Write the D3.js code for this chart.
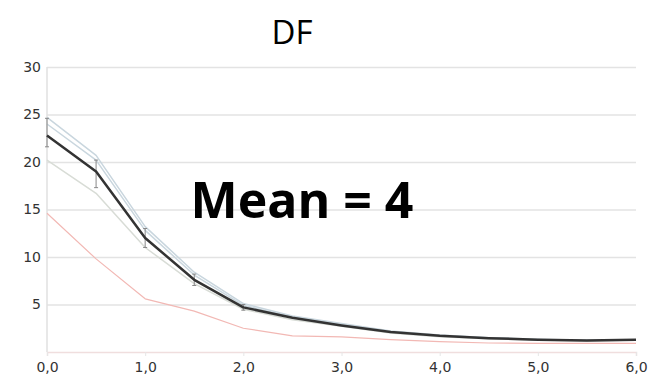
<!DOCTYPE html>
<html>
<head>
<meta charset="utf-8">
<script src="https://cdn.jsdelivr.net/npm/d3@7"></script>
<style>
  body { margin: 0; background: #fff; }
  svg { display: block; }
</style>
</head>
<body>
<div id="chart"></div>
<script>
// data
var xs       = [0, 0.5, 1.0, 1.5, 2.0, 2.5, 3.0, 3.5, 4.0, 4.5, 5.0, 5.5, 6.0];
var meanVals = [22.8, 19.0, 12.0, 7.6, 4.7, 3.6, 2.8, 2.1, 1.7, 1.45, 1.3, 1.2, 1.3];
var upper1   = [24.7, 20.7, 13.2, 8.4, 5.1, 3.8, 3.0, 2.2, 1.8, 1.5, 1.35, 1.25, 1.3];
var upper2   = [24.0, 20.2, 12.8, 8.1, 4.9, 3.7, 2.9, 2.15, 1.75, 1.5, 1.3, 1.2, 1.3];
var lower    = [20.2, 16.7, 11.0, 7.2, 4.5, 3.4, 2.7, 2.0, 1.6, 1.4, 1.25, 1.15, 1.25];
var redVals  = [14.6, 9.8, 5.6, 4.3, 2.5, 1.7, 1.6, 1.3, 1.1, 0.95, 0.9, 0.9, 0.9];
var errX     = [0, 0.5, 1.0, 1.5, 2.0];
var errLow   = [21.6, 17.3, 11.0, 7.0, 4.4];
var errHigh  = [24.6, 20.2, 13.0, 8.2, 5.0];
var yTicks   = [5, 10, 15, 20, 25, 30];
var xTicks   = [0, 1, 2, 3, 4, 5, 6];

var w = 656, h = 380;
var svg = d3.select("#chart").append("svg")
    .attr("width", w)
    .attr("height", h);

var x = d3.scaleLinear().domain([0, 6]).range([47, 636]);
var y = d3.scaleLinear().domain([0, 30]).range([352, 67]);

// grid
svg.append("g")
    .attr("transform", "translate(47,0)")
    .call(d3.axisLeft(y).tickValues(yTicks).tickSize(-589).tickFormat(""))
    .call(function(g) {
        g.select(".domain").remove();
        g.selectAll("line").attr("stroke", "#e3e3e3").attr("stroke-width", 1.5);
    });

// y axis line
svg.append("line")
    .attr("x1", 47).attr("x2", 47)
    .attr("y1", y(30)).attr("y2", y(0))
    .attr("stroke", "#e0e0e0").attr("stroke-width", 1.5);

// x axis
var xAxis = svg.append("g")
    .attr("transform", "translate(0,352)")
    .call(d3.axisBottom(x).tickValues(xTicks).tickSize(4)
        .tickFormat(function(d) { return d3.format(".1f")(d).replace(".", ","); }));
xAxis.select(".domain").attr("stroke", "#f0dede").attr("stroke-width", 1.5);
xAxis.selectAll("line").attr("stroke", "#e6e6e6");
xAxis.selectAll("text")
    .attr("y", 10)
    .attr("dy", "0.71em")
    .style("font-family", "DejaVu Sans")
    .style("font-size", "14px")
    .style("fill", "#333");

// y labels
svg.append("g")
    .selectAll("text")
    .data(yTicks)
    .enter()
    .append("text")
    .attr("x", 41)
    .attr("y", function(d) { return y(d); })
    .attr("dy", "0.35em")
    .attr("text-anchor", "end")
    .style("font-family", "DejaVu Sans")
    .style("font-size", "14px")
    .style("fill", "#333")
    .text(function(d) { return d; });

var line = d3.line()
    .x(function(d) { return x(d[0]); })
    .y(function(d) { return y(d[1]); });

function draw(vals, color, width) {
    svg.append("path")
        .datum(d3.zip(xs, vals))
        .attr("d", line)
        .attr("fill", "none")
        .attr("stroke", color)
        .attr("stroke-width", width)
        .attr("stroke-linejoin", "round");
}

draw(redVals, "#f2b8b4", 1.2);
draw(lower, "#d8dcd6", 1.5);
draw(upper1, "#c9d6de", 1.5);
draw(upper2, "#c9d6de", 1.5);

// error bars
var eb = svg.append("g").attr("stroke", "#888").attr("stroke-width", 1);
errX.forEach(function(v, i) {
    eb.append("line")
        .attr("x1", x(v)).attr("x2", x(v))
        .attr("y1", y(errLow[i])).attr("y2", y(errHigh[i]));
    eb.append("line")
        .attr("x1", x(v) - 2).attr("x2", x(v) + 2)
        .attr("y1", y(errLow[i])).attr("y2", y(errLow[i]));
    eb.append("line")
        .attr("x1", x(v) - 2).attr("x2", x(v) + 2)
        .attr("y1", y(errHigh[i])).attr("y2", y(errHigh[i]));
});

draw(meanVals, "#333", 2.5);

// title
svg.append("text")
    .attr("x", 292)
    .attr("y", 44)
    .attr("text-anchor", "middle")
    .style("font-family", "Open Sans")
    .style("font-size", "33px")
    .style("fill", "#000")
    .text("DF");

svg.append("text")
    .attr("x", 302)
    .attr("y", 218)
    .attr("text-anchor", "middle")
    .style("font-family", "Open Sans")
    .style("font-weight", "bold")
    .style("font-size", "50px")
    .style("fill", "#000")
    .text("Mean = 4");
</script>
</body>
</html>
